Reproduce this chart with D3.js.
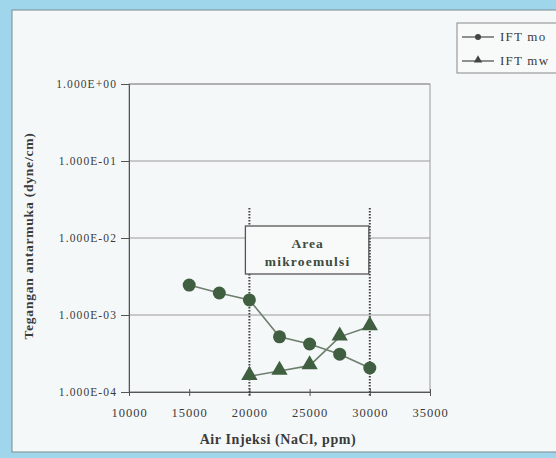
<!DOCTYPE html>
<html>
<head>
<meta charset="utf-8">
<script src="https://cdn.jsdelivr.net/npm/d3@7"></script>
<style>
  html, body { margin: 0; padding: 0; background: #9fd6ec; }
  svg { display: block; }
</style>
</head>
<body>
<svg id="chart" width="556" height="458"></svg>
<script>
// Salinitas air injeksi (ppm NaCl)
const salinityMo = [15000, 17500, 20000, 22500, 25000, 27500, 30000];
const iftMo = [2.45e-3, 1.93e-3, 1.57e-3, 5.2e-4, 4.2e-4, 3.1e-4, 2.05e-4];
const salinityMw = [20000, 22500, 25000, 27500, 30000];
const iftMw = [1.6e-4, 1.87e-4, 2.2e-4, 5.2e-4, 7.1e-4];
const xTicks = [10000, 15000, 20000, 25000, 30000, 35000];
const yTicks = [1e0, 1e-1, 1e-2, 1e-3, 1e-4];
const yTickLabels = ["1.000E+00", "1.000E-01", "1.000E-02", "1.000E-03", "1.000E-04"];
const microBounds = [20000, 30000];
const seriesNames = ["IFT mo", "IFT mw"];

const svg = d3.select("#chart");
const serif = "'Liberation Serif', 'DejaVu Serif', serif";
const markColor = "#3f5f40";
const lineColor = "#6d7f6c";
const textColor = "#3a3a3a";

// Panel
svg.append("rect").attr("x", 12).attr("y", 10).attr("width", 560).attr("height", 442)
  .attr("fill", "#f5f8f9").attr("stroke", "#7b8a90").attr("stroke-width", 1);

const x = d3.scaleLinear().domain([10000, 35000]).range([129, 430]);
const y = d3.scaleLog().domain([1e-4, 1]).range([392, 84]);

// Gridlines
svg.append("g").selectAll("line").data(yTicks).join("line")
  .attr("x1", x(10000)).attr("x2", x(35000))
  .attr("y1", d => y(d)).attr("y2", d => y(d))
  .attr("stroke", "#9a9a9a").attr("stroke-width", 1);

// Plot frame
svg.append("rect").attr("x", x(10000)).attr("y", y(1)).attr("width", x(35000) - x(10000))
  .attr("height", y(1e-4) - y(1)).attr("fill", "none").attr("stroke", "#9a9a9a");

// Axes
const yAxis = d3.axisLeft(y).tickValues(yTicks)
  .tickFormat((d, i) => yTickLabels[i]).tickSize(8).tickPadding(4);
const gy = svg.append("g").attr("transform", `translate(${x(10000)},0)`).call(yAxis);
gy.select(".domain").attr("stroke", "#555");
gy.selectAll(".tick line").attr("stroke", "#555");
gy.selectAll("text").attr("font-family", serif).attr("font-size", 11.5)
  .attr("letter-spacing", 1.1).attr("fill", textColor);

const xAxis = d3.axisBottom(x).tickValues(xTicks).tickFormat(d3.format("d")).tickSize(4).tickPadding(12);
const gx = svg.append("g").attr("transform", `translate(0,${y(1e-4)})`).call(xAxis);
gx.select(".domain").attr("stroke", "#555");
gx.selectAll(".tick line").attr("stroke", "#555").attr("y1", -3);
gx.selectAll("text").attr("font-family", serif).attr("font-size", 12.5)
  .attr("letter-spacing", 1).attr("fill", textColor);

// Axis titles
svg.append("text").attr("x", 278).attr("y", 444).attr("text-anchor", "middle")
  .attr("font-family", serif).attr("font-weight", "bold").attr("font-size", 14)
  .attr("letter-spacing", 0.6).attr("fill", textColor).text("Air Injeksi (NaCl, ppm)");
svg.append("text").attr("transform", "translate(33,236) rotate(-90)").attr("text-anchor", "middle")
  .attr("font-family", serif).attr("font-weight", "bold").attr("font-size", 13.5)
  .attr("letter-spacing", 0.8).attr("fill", textColor).text("Tegangan antarmuka (dyne/cm)");

// Microemulsion area boundaries
svg.append("g").selectAll("line").data(microBounds).join("line")
  .attr("x1", d => x(d)).attr("x2", d => x(d))
  .attr("y1", 208).attr("y2", 396)
  .attr("stroke", "#444").attr("stroke-width", 2).attr("stroke-dasharray", "1.5,1.5");

const boxG = svg.append("g");
boxG.append("rect").attr("x", x(microBounds[0]) - 4).attr("y", 226)
  .attr("width", x(microBounds[1]) - x(microBounds[0]) + 3).attr("height", 48)
  .attr("fill", "#f8fafa").attr("stroke", "#555").attr("stroke-width", 1.3);
const boxCx = (x(microBounds[0]) + x(microBounds[1])) / 2 - 2;
boxG.append("text").attr("x", boxCx).attr("y", 248).attr("text-anchor", "middle")
  .attr("font-family", serif).attr("font-weight", "bold").attr("font-size", 13.5)
  .attr("letter-spacing", 1).attr("fill", "#3d4a3d").text("Area");
boxG.append("text").attr("x", boxCx).attr("y", 266).attr("text-anchor", "middle")
  .attr("font-family", serif).attr("font-weight", "bold").attr("font-size", 13.5)
  .attr("letter-spacing", 1.2).attr("fill", "#3d4a3d").text("mikroemulsi");

// Series
const line = d3.line().x(d => x(d[0])).y(d => y(d[1]));
const mo = salinityMo.map((s, i) => [s, iftMo[i]]);
const mw = salinityMw.map((s, i) => [s, iftMw[i]]);

svg.append("path").datum(mo).attr("d", line).attr("fill", "none")
  .attr("stroke", lineColor).attr("stroke-width", 1.6);
svg.append("path").datum(mw).attr("d", line).attr("fill", "none")
  .attr("stroke", lineColor).attr("stroke-width", 1.6);

svg.append("g").selectAll("circle").data(mo).join("circle")
  .attr("cx", d => x(d[0])).attr("cy", d => y(d[1])).attr("r", 6.5)
  .attr("fill", markColor);
const tri = d3.symbol().type(d3.symbolTriangle).size(115);
svg.append("g").selectAll("path").data(mw).join("path")
  .attr("transform", d => `translate(${x(d[0])},${y(d[1]) - 1})`)
  .attr("d", tri).attr("fill", markColor);

// Legend
const lg = svg.append("g");
lg.append("rect").attr("x", 457).attr("y", 23).attr("width", 110).attr("height", 50)
  .attr("fill", "#f8fafa").attr("stroke", "#888").attr("stroke-width", 1);
const legendRows = [
  { name: seriesNames[0], yy: 37, shape: "circle" },
  { name: seriesNames[1], yy: 61, shape: "tri" }
];
legendRows.forEach(r => {
  lg.append("line").attr("x1", 462).attr("x2", 494).attr("y1", r.yy).attr("y2", r.yy)
    .attr("stroke", "#555").attr("stroke-width", 1.3);
  if (r.shape === "circle") {
    lg.append("circle").attr("cx", 478).attr("cy", r.yy).attr("r", 3).attr("fill", "#444");
  } else {
    lg.append("path").attr("transform", `translate(478,${r.yy - 1})`)
      .attr("d", d3.symbol().type(d3.symbolTriangle).size(30)).attr("fill", "#444");
  }
  lg.append("text").attr("x", 500).attr("y", r.yy + 4).attr("font-family", serif)
    .attr("font-size", 13).attr("letter-spacing", 1.2).attr("fill", textColor).text(r.name);
});
</script>
</body>
</html>
